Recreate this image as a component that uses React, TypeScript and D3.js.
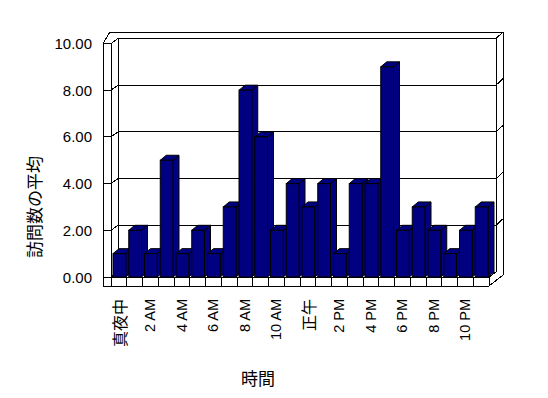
import React, { useEffect, useRef } from "react";
import * as d3 from "d3";

// hourly categories (every other one gets a tick label)
const categories = [
  "真夜中", "1 AM", "2 AM", "3 AM", "4 AM", "5 AM", "6 AM", "7 AM", "8 AM", "9 AM", "10 AM", "11 AM",
  "正午", "1 PM", "2 PM", "3 PM", "4 PM", "5 PM", "6 PM", "7 PM", "8 PM", "9 PM", "10 PM", "11 PM",
];
const visits = [1, 2, 1, 5, 1, 2, 1, 3, 8, 6, 2, 4, 3, 4, 1, 4, 4, 9, 2, 3, 2, 1, 2, 3];
const yTicks = [0, 2, 4, 6, 8, 10];
const yTitle = "訪問数の平均";
const xTitle = "時間";

const W = 548;
const H = 398;
const latin = "'Liberation Sans', Arial, sans-serif";
const cjk = "'Noto Sans CJK JP'";

export default function App() {
  const ref = useRef<SVGSVGElement>(null);

  useEffect(() => {
    const svg = d3.select(ref.current);
    svg.selectAll("*").remove();

    const left = 111;
    const right = 489;
    const floor = 277;
    const wallX = 103; // outer edge of left wall
    const floorB = 286; // bottom of floor slab
    const dep = { x: 7, y: -5 }; // front -> back wall
    const thick = { x: 7, y: -6.5 }; // back wall thickness
    const barDep = { x: 6, y: -5 };

    const x = d3.scaleBand<string>().domain(categories).range([left, right]);
    const y = d3.scaleLinear().domain([0, 10]).range([floor, 43.5]);

    const line = (x1: number, y1: number, x2: number, y2: number) =>
      svg
        .append("line")
        .attr("x1", x1)
        .attr("y1", y1)
        .attr("x2", x2)
        .attr("y2", y2)
        .attr("stroke", "#000")
        .attr("stroke-width", 1)
        .attr("shape-rendering", "crispEdges");

    const backL = left + dep.x;
    const backR = right + dep.x;
    const topB = y(10) + dep.y;
    const outerR = backR + thick.x;
    const outerT = topB + thick.y;

    // walls and floor outline
    line(wallX, y(10), wallX, floorB);
    line(wallX, floorB, right, floorB);
    line(wallX, y(10), left, y(10));
    line(left, y(10), left, floor);
    line(wallX, y(10), wallX + 7, outerT);
    line(left, y(10), backL, topB);
    line(wallX + 7, outerT, outerR, outerT);
    line(backL, topB, backR, topB);
    line(backL, topB, backL, floor + dep.y);
    line(backR, topB, backR, floor + dep.y);
    line(backR, topB, outerR, outerT);
    line(outerR, outerT, outerR, floorB - 11);
    line(right, floorB, outerR, floorB - 11);
    line(right, floor, right, floorB);
    line(right, floor, backR, floor + dep.y);
    line(left, floor, right, floor);
    line(backL, floor + dep.y, backR, floor + dep.y);

    // gridlines and ticks
    yTicks.forEach((t) => {
      const yf = y(t);
      const yb = yf + dep.y;
      line(wallX, yf, left, yf);
      line(left, yf, backL, yb);
      if (t > 0 && t < 10) {
        line(backL, yb, backR, yb);
        line(backR, yb, outerR, yb + thick.y);
      }
    });

    // floor front dividers
    categories.forEach((c) => line(x(c)!, floor, x(c)!, floorB));
    line(right, floor, right, floorB);

    svg
      .append("g")
      .selectAll("text")
      .data(yTicks)
      .join("text")
      .attr("x", 92)
      .attr("y", (d) => y(d))
      .attr("text-anchor", "end")
      .attr("dominant-baseline", "central")
      .style("font-family", latin)
      .style("font-size", "15px")
      .text((d) => d.toFixed(2));

    // bars
    const bw = x.bandwidth();
    const bars = svg.append("g");
    visits.forEach((v, i) => {
      const x0 = x(categories[i])! + 2;
      const x1 = x0 + bw - 3;
      const yt = y(v);
      const g = bars.append("g").attr("fill", "#000080").attr("stroke", "#000").attr("stroke-width", 1);
      g.append("polygon").attr(
        "points",
        [[x1, yt], [x1 + barDep.x, yt + barDep.y], [x1 + barDep.x, floor + barDep.y], [x1, floor]].join(" ")
      );
      g.append("polygon").attr(
        "points",
        [[x0, yt], [x0 + barDep.x, yt + barDep.y], [x1 + barDep.x, yt + barDep.y], [x1, yt]].join(" ")
      );
      g.append("rect").attr("x", x0).attr("y", yt).attr("width", x1 - x0).attr("height", floor - yt);
    });

    // category labels
    const isCjk = (d: string) => /[^\x00-\x7F]/.test(d);
    svg
      .append("g")
      .selectAll("text")
      .data(categories.filter((_, i) => i % 2 === 0))
      .join("text")
      .attr("transform", (d) => `translate(${x(d)! + bw / 2}, 299) rotate(-90)`)
      .attr("text-anchor", "end")
      .attr("dominant-baseline", "central")
      .style("font-family", (d) => (isCjk(d) ? cjk : latin))
      .style("font-size", (d) => (isCjk(d) ? "16px" : "14.5px"))
      .text((d) => d);

    svg
      .append("text")
      .attr("transform", "translate(33, 207) rotate(-90)")
      .attr("text-anchor", "middle")
      .attr("dominant-baseline", "central")
      .style("font-family", cjk)
      .style("font-size", "17px")
      .text(yTitle);

    svg
      .append("text")
      .attr("x", 258)
      .attr("y", 377)
      .attr("text-anchor", "middle")
      .attr("dominant-baseline", "central")
      .style("font-family", cjk)
      .style("font-size", "17px")
      .text(xTitle);
  }, []);

  return (
    <svg
      ref={ref}
      width={W}
      height={H}
      style={{ position: "absolute", left: 0, top: 0, background: "#fff" }}
    />
  );
}
